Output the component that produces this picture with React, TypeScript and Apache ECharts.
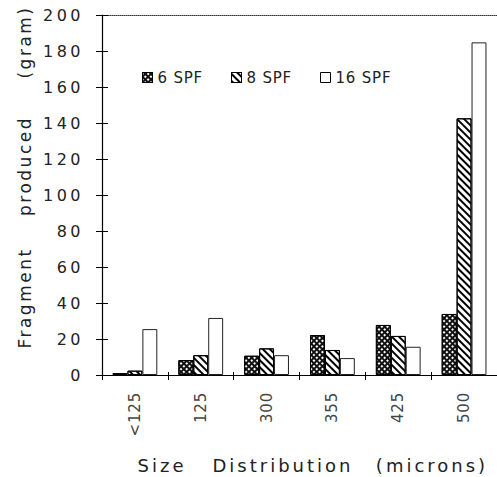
import React, { useEffect, useRef } from "react";
import * as echarts from "echarts";

const categories = ["<125", "125", "300", "355", "425", "500"];
const seriesNames = ["6 SPF", "8 SPF", "16 SPF"];
const spf6 = [1, 8.3, 10.7, 22.2, 27.8, 33.9];
const spf8 = [2.4, 11, 14.8, 13.9, 21.7, 142.6];
const spf16 = [25.5, 31.7, 11, 9.4, 15.7, 184.8];
const yMin = 0;
const yMax = 200;
const yStep = 20;
const yNameParts = ["Fragment", "produced", "(gram)"];
const xNameParts = ["Size", "Distribution", "(microns)"];

const FONT = "DejaVu Sans";
const INK = "#222";

export default function App() {
  const ref = useRef<HTMLDivElement>(null);
  useEffect(() => {
    if (!ref.current) return;
    const chart = echarts.init(ref.current, undefined, { renderer: "svg" });
    const gridLeft = 102;
    const gridTop = 15;
    const gridW = 399;
    const gridH = 360;
    const yAxisBase = {
      type: "value" as const,
      min: yMin,
      max: yMax,
      interval: yStep,
      position: "left" as const,
      splitLine: { show: false },
    };
    chart.setOption({
      animation: false,
      backgroundColor: "#fff",
      grid: { left: gridLeft, top: gridTop, width: gridW, height: gridH, containLabel: false },
      legend: {
        data: seriesNames,
        left: 137,
        top: 65,
        icon: "rect",
        itemWidth: 10,
        itemHeight: 10,
        itemGap: 32,
        itemStyle: { borderColor: "#000", borderWidth: 1 },
        textStyle: { fontFamily: FONT, fontSize: 15, color: INK },
      },
      xAxis: [
        {
          type: "category",
          data: categories,
          position: "bottom",
          axisLine: { lineStyle: { color: "#000", width: 1.2 } },
          axisTick: { show: true, length: 5, lineStyle: { color: "#000" } },
          axisLabel: {
            rotate: 90,
            margin: 17,
            fontFamily: FONT,
            fontSize: 15,
            color: "#444",
          },
        },
        {
          type: "category",
          data: categories,
          position: "bottom",
          axisLine: { show: false },
          axisTick: { show: true, inside: true, length: 3, lineStyle: { color: "#000" } },
          axisLabel: { show: false },
        },
        {
          type: "category",
          data: categories,
          position: "top",
          axisLine: { lineStyle: { color: "#333", type: "dotted", width: 1 } },
          axisTick: { show: false },
          axisLabel: { show: false },
        },
      ],
      yAxis: [
        {
          ...yAxisBase,
          axisLine: { show: true, lineStyle: { color: "#000", width: 1.2 } },
          axisTick: { show: true, length: 6, lineStyle: { color: "#000" } },
          axisLabel: { margin: 18, fontFamily: FONT, fontSize: 16, color: INK },
        },
        {
          ...yAxisBase,
          axisLine: { show: false },
          axisTick: { show: true, inside: true, length: 6, lineStyle: { color: "#000" } },
          axisLabel: { show: false },
        },
      ],
      series: [
        {
          name: seriesNames[0],
          type: "bar",
          data: spf6,
          barGap: "0%",
          barCategoryGap: "32%",
          itemStyle: {
            color: "#111",
            borderColor: "#000",
            borderWidth: 1,
            decal: {
              symbol: "rect",
              color: "#fff",
              symbolSize: 1,
              dashArrayX: [2, 1.5],
              dashArrayY: [2, 1.5],
              rotation: Math.PI / 4,
            },
          },
        },
        {
          name: seriesNames[1],
          type: "bar",
          data: spf8,
          barGap: "0%",
          barCategoryGap: "32%",
          itemStyle: {
            color: "#fff",
            borderColor: "#000",
            borderWidth: 1,
            decal: {
              symbol: "rect",
              color: "#000",
              symbolSize: 1,
              dashArrayX: [1, 0],
              dashArrayY: [1.8, 2.4],
              rotation: Math.PI / 4,
            },
          },
        },
        {
          name: seriesNames[2],
          type: "bar",
          data: spf16,
          barGap: "0%",
          barCategoryGap: "32%",
          itemStyle: { color: "#fff", borderColor: "#222", borderWidth: 1 },
        },
      ],
      graphic: [
        ...yNameParts.map((t, i) => ({
          type: "text",
          x: 25,
          y: [298, 166, 42][i],
          rotation: Math.PI / 2,
          style: {
            text: t,
            fontFamily: FONT,
            fontSize: 17,
            fill: INK,
            align: "center",
            verticalAlign: "middle",
          },
        })),
        ...xNameParts.map((t, i) => ({
          type: "text",
          x: [162, 283, 432][i],
          y: 465,
          style: {
            text: t,
            fontFamily: FONT,
            fontSize: 18,
            fill: INK,
            align: "center",
            verticalAlign: "middle",
          },
        })),
      ],
    });
    return () => chart.dispose();
  }, []);
  return (
    <>
      <style>{`
        #chart svg text[style*="16px"] { letter-spacing: 3.5px; }
        #chart svg text[style*="17px"] { letter-spacing: 2.5px; }
        #chart svg text[style*="18px"] { letter-spacing: 3px; }
        #chart svg text[style*="15px"] { letter-spacing: 0.8px; }
      `}</style>
      <div
        id="chart"
        ref={ref}
        style={{ position: "absolute", left: 0, top: 0, width: 497, height: 477 }}
      />
    </>
  );
}
